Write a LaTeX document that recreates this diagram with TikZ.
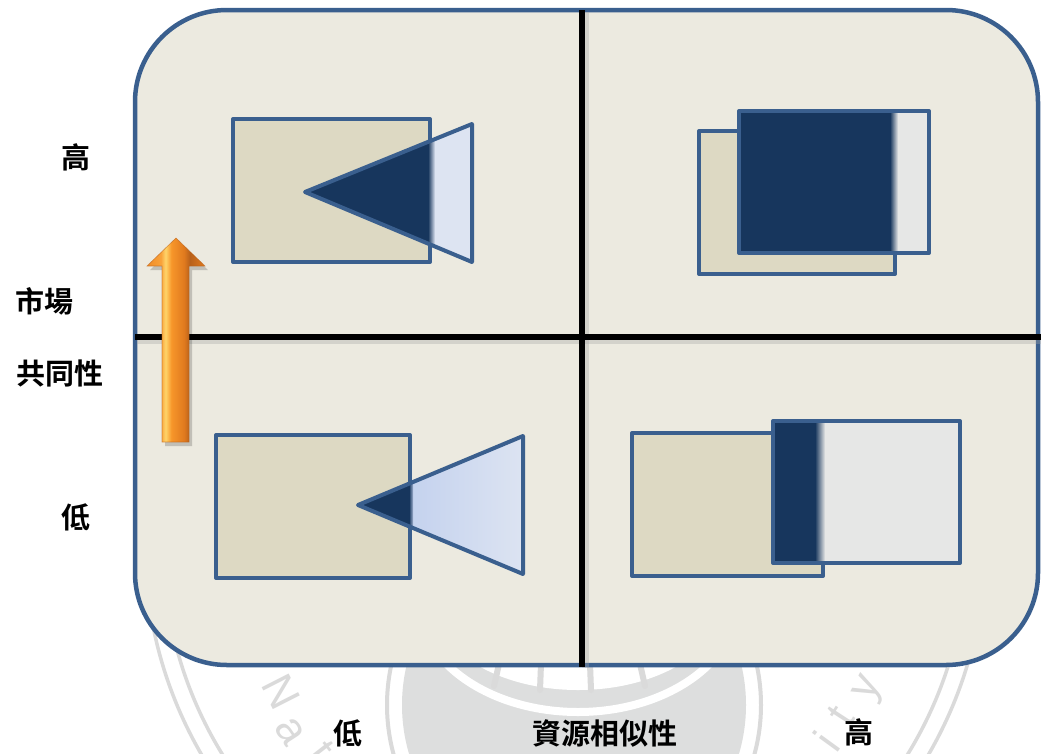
\documentclass[tikz,border=0pt]{standalone}
\usepackage{fontspec}
\newfontfamily\cjk{Noto Sans CJK TC Bold}
\newfontfamily\wmfont{Liberation Sans}
\definecolor{edge}{HTML}{3A5F8E}
\definecolor{panel}{HTML}{ECEAE0}
\definecolor{sand}{HTML}{DDD9C3}
\definecolor{navy}{HTML}{17365D}
\definecolor{paleblue}{HTML}{DDE4F2}
\definecolor{midblue}{HTML}{C4D2EE}
\definecolor{palegray}{HTML}{E6E7E6}
\definecolor{seal}{HTML}{DADADA}
\definecolor{sealdisk}{HTML}{DDDEDE}
\definecolor{orA}{HTML}{F08C28}
\definecolor{orB}{HTML}{F9A23A}
\definecolor{orC}{HTML}{FFD46A}
\definecolor{orD}{HTML}{F7962A}
\definecolor{orE}{HTML}{E07A1E}
\definecolor{orF}{HTML}{B8601A}
\pgfdeclarehorizontalshading{arrowfill}{100bp}{%
  color(0bp)=(orA); color(25bp)=(orA); color(37bp)=(orB); color(41bp)=(orC);
  color(46bp)=(orD); color(57bp)=(orE); color(62bp)=(orF); color(75bp)=(orE);
  color(100bp)=(orE)}
\begin{document}
\begin{tikzpicture}[x=1pt,y=-1pt,
  frame/.style={draw=edge, fill=panel, line width=4.5pt, rounded corners=92pt},
  divider/.style={draw=black, line width=6pt},
  divider shadow/.style={draw=black!35, line width=7pt, opacity=0.35},
  box line/.style={draw=edge, line width=4pt, line join=round},
  cjklabel/.style={font=\cjk\fontsize{29}{32}\selectfont, inner sep=0pt},
  wm letter/.style={font=\wmfont\fontsize{44}{46}\selectfont, text=seal, inner sep=0pt},
  seal ring/.style={draw=seal, line width=3.5pt}]
\useasboundingbox (0,0) rectangle (1041,753);
\fill[white] (0,0) rectangle (1041,753);

% faint seal in the background
\begin{scope}
  \clip (0,0) rectangle (1041,753);
  \draw[seal ring] (565,544) circle[radius=420];
  \draw[seal ring] (565,544) circle[radius=402];
  \fill[sealdisk] (574,705) circle[radius=172];
  \draw[seal ring, line width=4pt] (574,705) circle[radius=187];
  \draw[white, line width=8pt] (578,600) ellipse[x radius=160, y radius=112];
  \fill[white] (578,600) ellipse[x radius=146, y radius=90];
  \draw[seal, line width=6pt, line cap=round] (499,664) -- (494,686);
  \draw[seal, line width=6pt, line cap=round] (541,664) -- (540,690);
  \draw[seal, line width=6pt, line cap=round] (590,664) -- (591,690);
  \draw[seal, line width=6pt, line cap=round] (640,664) -- (645,686);
  \node[wm letter, rotate=-63] (wmN) at (281,692) {N};
  \node[wm letter, rotate=-57] (wmA) at (290,731) {a};
  \node[wm letter, rotate=-52] (wmT) at (321,752) {t};
  \node[wm letter, rotate=54] (wmI) at (826,741) {i};
  \node[wm letter, rotate=57] (wmT2) at (841,716) {t};
  \node[wm letter, rotate=63] (wmY) at (870,689) {y};
\end{scope}

% outer panel
\draw[frame] (135,10) rectangle (1038,665);

% quadrant dividers
\draw[divider shadow] (137,340) -- (1041,340);
\draw[divider shadow] (585,12) -- (585,668);
\draw[divider] (135,337) -- (1041,337);
\draw[divider] (582,10) -- (582,667);

% upper left: small wedge reaching deep into the box
\fill[sand] (233,119) rectangle (430,262);
\draw[box line] (233,119) rectangle (430,262);
\begin{scope}
  \clip (305,192) -- (472,124) -- (472,262) -- cycle;
  \fill[paleblue] (300,115) rectangle (476,266);
  \fill[navy] (300,115) rectangle (428,266);
  \shade[left color=navy, right color=paleblue] (428,115) rectangle (435,266);
\end{scope}
\draw[box line] (305,192) -- (472,124) -- (472,262) -- cycle;

% upper right: large overlap
\fill[sand] (699,131) rectangle (895,274);
\draw[box line] (699,131) rectangle (895,274);
\begin{scope}
  \clip (739,111) rectangle (929,253);
  \fill[palegray] (739,111) rectangle (929,253);
  \fill[navy] (739,111) rectangle (890,253);
  \shade[left color=navy, right color=palegray] (890,111) rectangle (898,253);
\end{scope}
\draw[box line] (739,111) rectangle (929,253);

% lower left: wedge barely touching the box
\fill[sand] (216,435) rectangle (410,578);
\draw[box line] (216,435) rectangle (410,578);
\begin{scope}
  \clip (358,505) -- (523,436) -- (523,574) -- cycle;
  \shade[left color=midblue, right color=paleblue] (410,430) rectangle (526,580);
  \fill[navy] (350,430) rectangle (409,580);
  \shade[left color=navy, right color=midblue!80!navy] (409,430) rectangle (413,580);
\end{scope}
\draw[box line] (358,505) -- (523,436) -- (523,574) -- cycle;

% lower right: small overlap
\fill[sand] (632,433) rectangle (823,576);
\draw[box line] (632,433) rectangle (823,576);
\begin{scope}
  \clip (773,421) rectangle (960,563);
  \fill[palegray] (773,421) rectangle (960,563);
  \fill[navy] (773,421) rectangle (815,563);
  \shade[left color=navy, right color=palegray] (815,421) rectangle (825,563);
\end{scope}
\draw[box line] (773,421) rectangle (960,563);

% upward arrow on the vertical axis
\fill[black, opacity=0.18] (165,446) -- (165,270) -- (150,270) -- (179,242)
  -- (208,270) -- (192,270) -- (192,446) -- cycle;
\shade[shading=arrowfill] (162,442) -- (162,266) -- (147,266) -- (176,238)
  -- (205,266) -- (189,266) -- (189,442) -- cycle;
\draw[orF, line width=0.6pt, opacity=0.6] (162,442) -- (162,266) -- (147,266) -- (176,238)
  -- (205,266) -- (189,266) -- (189,442) -- cycle;

% axis labels
\node[cjklabel] (yHigh) at (76,157) {高};
\node[cjklabel] (yNameA) at (44,301) {市場};
\node[cjklabel] (yNameB) at (60,373) {共同性};
\node[cjklabel] (yLow) at (76,517) {低};
\node[cjklabel] (xLow) at (348,733) {低};
\node[cjklabel] (xName) at (605,733) {資源相似性};
\node[cjklabel] (xHigh) at (859,732) {高};
\end{tikzpicture}
\end{document}
